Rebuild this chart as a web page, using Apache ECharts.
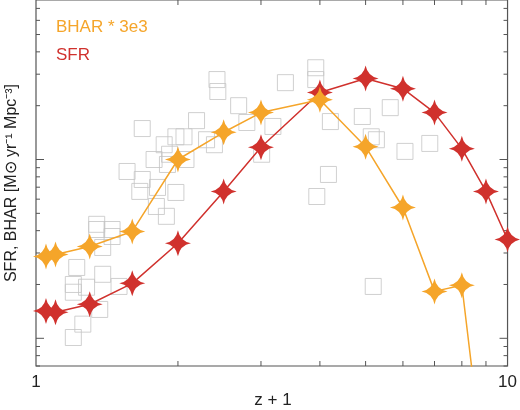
<!DOCTYPE html>
<html><head><meta charset="utf-8">
<script src="https://cdn.jsdelivr.net/npm/echarts@6/dist/echarts.min.js"></script>
<style>html,body{margin:0;padding:0;background:#fff}#c{width:520px;height:410px}</style>
</head><body><div id="c"></div>
<script>
const bharX = [1.05,1.1,1.3,1.6,2,2.5,3,4,5,6,7,8,8.5];
const bharY = [2.87,2.94,3.26,3.96,10,14.2,18.3,21.6,11.8,5.39,1.83,1.98,0.52];
const sfrX = [1.05,1.1,1.3,1.6,2,2.5,3,4,5,6,7,8,9,10];
const sfrY = [1.42,1.40,1.55,2.03,3.40,6.63,11.7,23.7,28.4,24.9,18.3,11.5,6.63,3.57];
const obsX = [2.42,2.43,2.69,1.68,2.19,2.06,1.98,1.87,2.30,2.39,2.80,1.56,1.68,1.78,1.92,2.08,1.90,1.81,1.66,1.98,1.80,1.89,1.345,1.345,1.45,1.45,1.385,1.22,1.20,1.20,1.28,1.385,1.50,1.365,1.257,1.20,3.01,3.38,3.92,3.92,3.18,4.21,4.92,5.64,5.14,5.27,6.06,6.84,4.17,3.94,5.19];
const obsY = [28.0,24.0,20.0,14.9,16.5,13.4,13.4,12.1,12.9,12.1,16.1,8.57,7.73,10,10.7,10,9.38,6.98,6.63,6.54,5.46,4.81,4.34,4.06,4.06,3.71,3.22,2.49,2.00,1.81,1.93,2.28,1.95,1.45,1.20,1.01,10.7,26.9,32.6,28.0,15.3,16.3,17.4,19.5,13.4,12.9,11.1,12.3,8.25,6.21,1.95];
const yTicks = [0.7,0.8,0.9,1,2,3,4,5,6,7,8,9,10,20,30,40,50,60,70];
const yMajor = [1,10];
const xTicks = [2,3,4,5,6,7,8,9];
const xLabels = ['1','10'];

const zip = (a,b)=>a.map((v,i)=>[v,b[i]]);
const star = 'path://M0,-10 Q1.6,-1.6 10,0 Q1.6,1.6 0,10 Q-1.6,1.6 -10,0 Q-1.6,-1.6 0,-10Z';
const axisCol = '#555';
const chart = echarts.init(document.getElementById('c'));
chart.setOption({
  animation:false,
  grid:{left:36,right:10,top:0,bottom:44,show:true,borderColor:axisCol,borderWidth:1.2},
  xAxis:{type:'log',logBase:10,min:1,max:10,axisLine:{show:false},axisTick:{show:false},splitLine:{show:false},
    axisLabel:{fontSize:17,color:'#222',fontFamily:'Liberation Sans, Arial',margin:8,formatter:v=>xLabels[Math.round(Math.log10(v))]}},
  yAxis:{type:'log',logBase:10,min:0.7,max:78,axisLine:{show:false},axisTick:{show:false},axisLabel:{show:false},splitLine:{show:false}},
  graphic:[
    {type:'text',left:56,top:19,style:{text:'BHAR * 3e3',fill:'#f5a52a',font:'17px "Liberation Sans", Arial'}},
    {type:'text',left:56,top:47,style:{text:'SFR',fill:'#d0312d',font:'17px "Liberation Sans", Arial'}},
    {type:'text',x:273,y:400,style:{text:'z + 1',fill:'#222',font:'17px "Liberation Sans", Arial',align:'center',verticalAlign:'middle'}},
    {type:'text',x:12,y:183,rotation:Math.PI/2,style:{text:'SFR, BHAR [M\u2299 yr\u207B\u00B9 Mpc\u207B\u00B3]',fill:'#222',font:'16px "Liberation Sans", Arial',align:'center',verticalAlign:'middle'}}
  ],
  series:[
    {type:'custom',coordinateSystem:'cartesian2d',silent:true,data:yTicks.map(v=>[1,v]),
      renderItem:(p,api)=>{const v=api.value(1);const pt=api.coord([1,v]);const cs=p.coordSys;const L=yMajor.includes(v)?8:4;
        return {type:'group',children:[
          {type:'line',shape:{x1:cs.x,y1:pt[1],x2:cs.x+L,y2:pt[1]},style:{stroke:axisCol,lineWidth:1}},
          {type:'line',shape:{x1:cs.x+cs.width,y1:pt[1],x2:cs.x+cs.width-L,y2:pt[1]},style:{stroke:axisCol,lineWidth:1}}]};}},
    {type:'custom',coordinateSystem:'cartesian2d',silent:true,data:xTicks.map(v=>[v,1]),
      renderItem:(p,api)=>{const pt=api.coord([api.value(0),1]);const cs=p.coordSys;const L=5;
        return {type:'group',children:[
          {type:'line',shape:{x1:pt[0],y1:cs.y+cs.height,x2:pt[0],y2:cs.y+cs.height-L},style:{stroke:axisCol,lineWidth:1}},
          {type:'line',shape:{x1:pt[0],y1:cs.y,x2:pt[0],y2:cs.y+L},style:{stroke:axisCol,lineWidth:1}}]};}},
    {type:'scatter',data:zip(obsX,obsY),symbol:'rect',symbolSize:16,itemStyle:{color:'rgba(0,0,0,0)',borderColor:'#c4c4c4',borderWidth:1},z:1},
    {type:'line',data:zip(sfrX,sfrY),symbol:star,symbolSize:26,itemStyle:{color:'#d0312d'},lineStyle:{color:'#d0312d',width:1.5},z:3},
    {type:'line',data:zip(bharX,bharY),symbol:star,symbolSize:26,itemStyle:{color:'#f5a52a'},lineStyle:{color:'#f5a52a',width:1.5},z:4}
  ]
});
</script></body></html>
